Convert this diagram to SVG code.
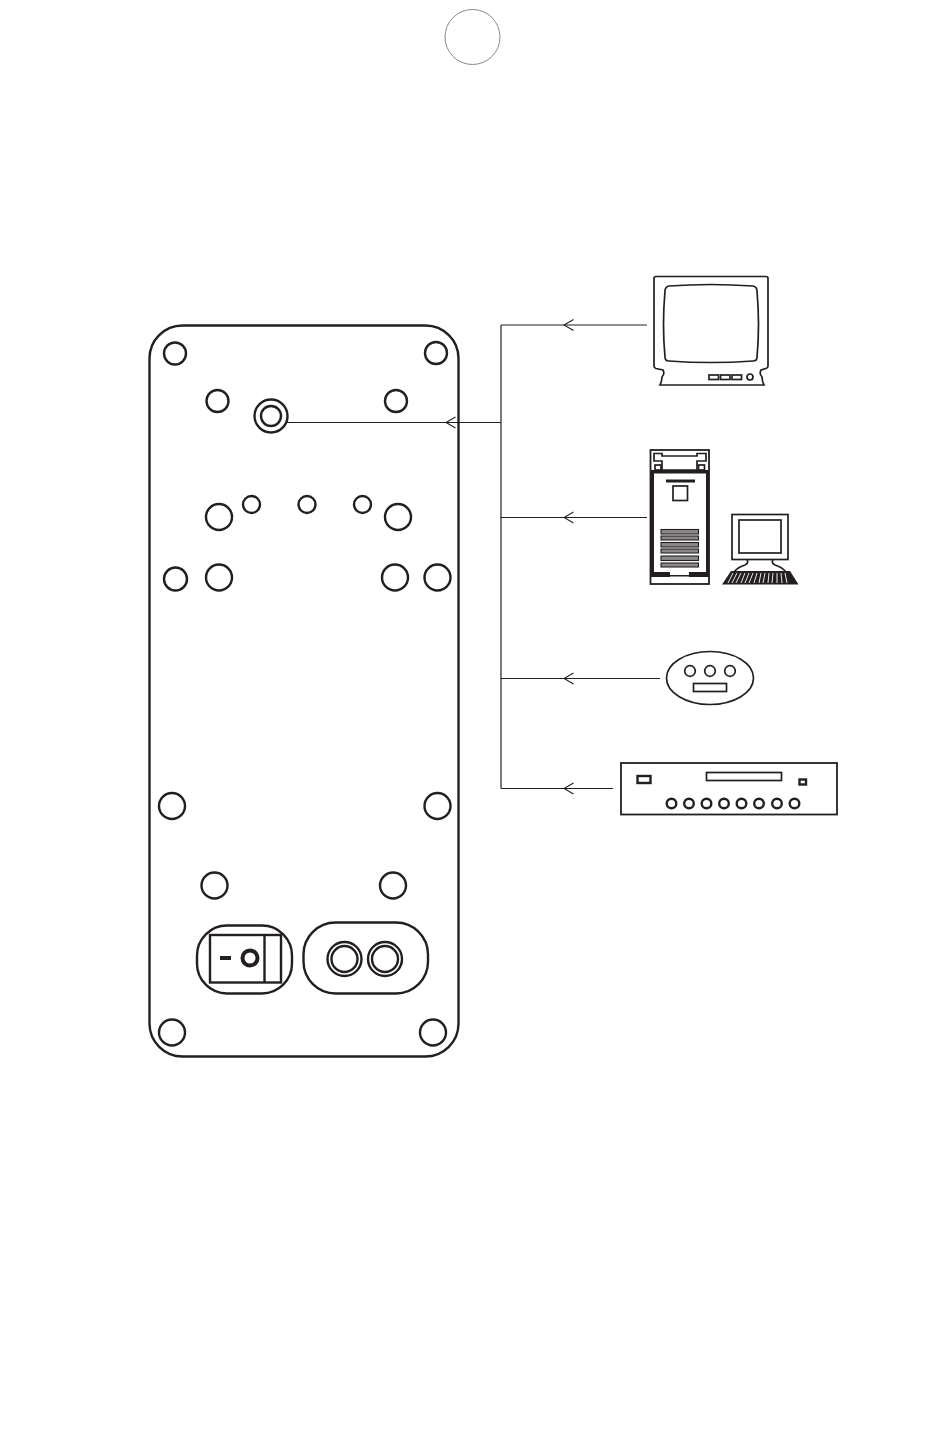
<svg xmlns="http://www.w3.org/2000/svg" width="950" height="1429" viewBox="0 0 950 1429">
<style>
.k{fill:none;stroke:#231f20;stroke-width:2.4}
.t{fill:none;stroke:#231f20;stroke-width:1.2}
.m{fill:none;stroke:#231f20;stroke-width:1.7}
.f{fill:#231f20;stroke:none}
.g{fill:#8a8889;stroke:#231f20;stroke-width:1.1}
</style>
<defs>
<marker id="arr" markerUnits="userSpaceOnUse" markerWidth="12" markerHeight="14" refX="11" refY="7" orient="auto" viewBox="0 0 12 14"><path d="M1.500 1.500L11 7L1.500 12.500" fill="none" stroke="#231f20" stroke-width="1.1"/></marker>
</defs>
<rect width="950" height="1429" fill="#fff"/>
<g id="page-circle"><circle cx="472.500" cy="37" r="27.500" fill="none" stroke="#8a8a8a" stroke-width="1"/></g>
<g id="panel">
<rect class="k" x="149.500" y="325.500" width="309" height="731" rx="33" ry="33"/>
<g id="holes" class="k">
<circle cx="175" cy="353.500" r="11"/><circle cx="436" cy="353" r="11"/>
<circle cx="217.500" cy="401" r="11"/><circle cx="396" cy="401" r="11"/>
<circle cx="219" cy="517" r="13"/><circle cx="398" cy="517" r="13"/>
<circle cx="251.500" cy="504.500" r="8.500"/><circle cx="307" cy="504.500" r="8.500"/><circle cx="362.500" cy="504.500" r="8.500"/>
<circle cx="175.500" cy="579" r="11.500"/><circle cx="219" cy="577.500" r="13"/><circle cx="395" cy="577.500" r="13"/><circle cx="437.500" cy="577.500" r="13"/>
<circle cx="172" cy="806" r="13"/><circle cx="437.500" cy="806" r="13"/>
<circle cx="214.500" cy="885.500" r="13"/><circle cx="393" cy="885.500" r="13"/>
<circle cx="172" cy="1032.500" r="13"/><circle cx="433" cy="1032.500" r="13"/>
</g>
<g id="jack" class="k"><circle cx="271" cy="416" r="16.500"/><circle cx="271" cy="416" r="10"/></g>
<g id="switch">
<rect class="k" x="197" y="925.500" width="95" height="68" rx="30" ry="30"/>
<rect class="k" x="210" y="935" width="71" height="47.500"/>
<line class="k" x1="264.500" y1="935" x2="264.500" y2="982.500"/>
<rect class="f" x="220" y="956" width="11" height="4"/>
<circle cx="250" cy="958" r="7.500" fill="none" stroke="#231f20" stroke-width="4"/>
</g>
<g id="sockets">
<rect class="k" x="303.500" y="922.500" width="124.500" height="71" rx="32" ry="32"/>
<circle class="k" cx="344.500" cy="959" r="17"/><circle class="k" cx="344.500" cy="959" r="13"/>
<circle class="k" cx="385" cy="959" r="17"/><circle class="k" cx="385" cy="959" r="13"/>
</g>
</g>
<g id="connectors" class="t">
<line x1="501" y1="325" x2="501" y2="788.500"/>
<line x1="647" y1="325" x2="564" y2="325" marker-end="url(#arr)"/><line x1="564" y1="325" x2="501" y2="325"/>
<line x1="647" y1="517.500" x2="564" y2="517.500" marker-end="url(#arr)"/><line x1="564" y1="517.500" x2="501" y2="517.500"/>
<line x1="660" y1="678.500" x2="564" y2="678.500" marker-end="url(#arr)"/><line x1="564" y1="678.500" x2="501" y2="678.500"/>
<line x1="613" y1="788.500" x2="564" y2="788.500" marker-end="url(#arr)"/><line x1="564" y1="788.500" x2="501" y2="788.500"/>
<line x1="501" y1="422.500" x2="446" y2="422.500" marker-end="url(#arr)"/><line x1="446" y1="422.500" x2="285" y2="422.500"/>
</g>
<g id="tv">
<path class="m" d="M656 276.500H766Q768 276.500 768 278.500V366Q768 368 766 368.500L761 370Q759 374 762 377Q762 381 764 385H660Q662 381 662 377Q665 374 663 370L656 368.500Q654 368 654 366V278.500Q654 276.500 656 276.500Z"/>
<path class="m" d="M669 286Q710 283 753 286Q757 287 757 291Q760 325 757 357Q757 361 753 361Q710 364 669 361Q665 361 665 357Q662 325 665 291Q665 287 669 286Z"/>
<rect class="m" x="709" y="375" width="9.500" height="4.500"/><rect class="m" x="720.500" y="375" width="9.500" height="4.500"/><rect class="m" x="732" y="375" width="9.500" height="4.500"/>
<circle class="m" cx="750" cy="377" r="3"/>
</g>
<g id="computer">
<rect x="650.500" y="450" width="58.500" height="134" fill="none" stroke="#231f20" stroke-width="1.800"/>
<rect class="f" x="651" y="470" width="3" height="104"/><rect class="f" x="706" y="470" width="3" height="104"/>
<rect class="f" x="651" y="470" width="58" height="3.500"/>
<rect class="f" x="651" y="572" width="19" height="5"/><rect class="f" x="689" y="572" width="20" height="5"/>
<rect class="f" x="670" y="575" width="19" height="1.500"/>
<path class="m" d="M654 453.500H662V456H697V453.500H706V461H697V470H662V461H654Z"/>
<rect class="m" x="655" y="465" width="6" height="5"/><rect class="m" x="698.500" y="465" width="6" height="5"/>
<rect class="f" x="666" y="479.500" width="29" height="3"/>
<rect class="m" x="673" y="486" width="14.500" height="14.500"/>
<g class="g"><rect x="661" y="529.500" width="37.500" height="4.500"/><rect x="661" y="536" width="37.500" height="4"/><rect x="661" y="542.500" width="37.500" height="4.500"/><rect x="661" y="549" width="37.500" height="4"/><rect x="661" y="556" width="37.500" height="4.500"/><rect x="661" y="563" width="37.500" height="4"/></g>
<rect class="m" x="732" y="514.500" width="56" height="45"/>
<rect class="m" x="739" y="520" width="42" height="33"/>
<path class="m" d="M747 559.500Q749 563 745 565Q738 567 734 572M773 559.500Q771 563 775 565Q782 567 786 572"/>
<path d="M731 571H790L798.500 584.500H722Z" fill="#231f20"/>
<path d="M733 573L728 583M737 573L732 583M741 573L736 583M745 573L741 583M749 573L745 583M753 573L749 583M757 573L754 583M761 573L759 583M765 573L763 583M769 573L768 583M773 573L772 583M777 573L777 583M781 573L782 583M785 573L787 583" stroke="#fff" stroke-width="0.900" fill="none"/>
</g>
<g id="remote">
<ellipse class="m" cx="710" cy="678" rx="43.500" ry="26.500"/>
<circle class="m" cx="690" cy="671" r="5.300"/><circle class="m" cx="710" cy="671" r="5.300"/><circle class="m" cx="730" cy="671" r="5.300"/>
<rect class="m" x="693.500" y="683.500" width="33" height="8"/>
</g>
<g id="player">
<rect x="621" y="763" width="216" height="51.500" fill="none" stroke="#231f20" stroke-width="1.800"/>
<rect class="k" x="637.500" y="776" width="13" height="7"/>
<rect class="m" x="706.500" y="772.500" width="75" height="8"/>
<rect class="k" x="799.500" y="779.500" width="6.500" height="5"/>
<g class="k"><circle cx="671.500" cy="803.500" r="4.800"/><circle cx="689" cy="803.500" r="4.800"/><circle cx="706.500" cy="803.500" r="4.800"/><circle cx="724" cy="803.500" r="4.800"/><circle cx="741.500" cy="803.500" r="4.800"/><circle cx="759" cy="803.500" r="4.800"/><circle cx="777" cy="803.500" r="4.800"/><circle cx="794.500" cy="803.500" r="4.800"/></g>
</g>
</svg>
